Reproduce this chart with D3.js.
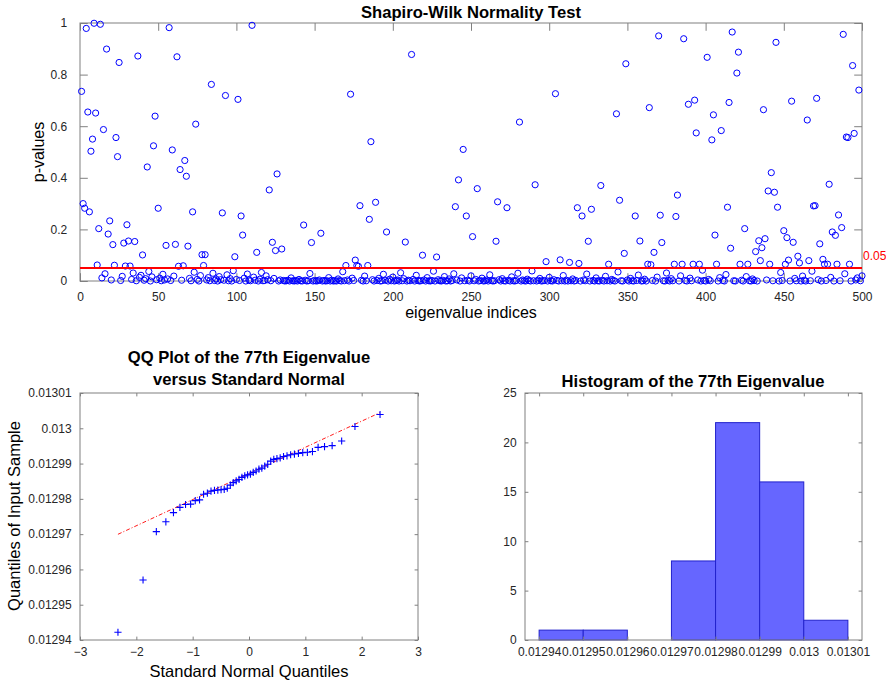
<!DOCTYPE html>
<html>
<head>
<meta charset="utf-8">
<script src="https://cdn.jsdelivr.net/npm/d3@7"></script>
<style>
  html, body { margin: 0; padding: 0; background: #fff; }
  svg { display: block; font-family: "Liberation Sans", Arial, Helvetica, sans-serif; }
</style>
</head>
<body>
<svg id="fig" width="886" height="688"></svg>
<script>
// Shapiro-Wilk p-values for eigenvalues 1..500
const pValues = [
  0.735, 0.300, 0.282, 0.979, 0.655, 0.268, 0.503, 0.550, 0.999, 0.651,
  0.062, 0.203, 0.995, 0.012, 0.587, 0.028, 0.899, 0.182, 0.233, 0.004,
  0.141, 0.061, 0.556, 0.482, 0.847, 0.002, 0.018, 0.147, 0.058, 0.218,
  0.155, 0.058, 0.006, 0.031, 0.153, 0.001, 0.872, 0.014, 0.022, 0.101,
  0.003, 0.009, 0.442, 0.037, 0.000, 0.016, 0.524, 0.639, 0.005, 0.282,
  0.011, 0.001, 0.026, 0.004, 0.138, 0.008, 0.982, 0.002, 0.508, 0.019,
  0.142, 0.869, 0.057, 0.432, 0.003, 0.059, 0.467, 0.406, 0.135, 0.010,
  0.001, 0.268, 0.034, 0.608, 0.006, 0.000, 0.021, 0.102, 0.060, 0.102,
  0.004, 0.013, 0.001, 0.762, 0.030, 0.002, 0.008, 0.000, 0.017, 0.005,
  0.264, 0.003, 0.719, 0.024, 0.001, 0.009, 0.000, 0.040, 0.094, 0.006,
  0.704, 0.002, 0.252, 0.178, 0.011, 0.000, 0.027, 0.004, 0.001, 0.991,
  0.015, 0.003, 0.111, 0.000, 0.007, 0.033, 0.001, 0.002, 0.020, 0.005,
  0.353, 0.001, 0.150, 0.010, 0.118, 0.415, 0.000, 0.004, 0.124, 0.002,
  0.000, 0.001, 0.003, 0.000, 0.012, 0.001, 0.000, 0.002, 0.000, 0.006,
  0.001, 0.000, 0.217, 0.003, 0.000, 0.001, 0.029, 0.149, 0.000, 0.002,
  0.000, 0.001, 0.004, 0.185, 0.000, 0.002, 0.000, 0.001, 0.013, 0.000,
  0.003, 0.000, 0.001, 0.000, 0.008, 0.002, 0.000, 0.036, 0.001, 0.060,
  0.004, 0.000, 0.724, 0.011, 0.002, 0.081, 0.060, 0.057, 0.292, 0.003,
  0.000, 0.019, 0.001, 0.060, 0.239, 0.540, 0.005, 0.000, 0.305, 0.002,
  0.010, 0.000, 0.001, 0.026, 0.003, 0.190, 0.000, 0.007, 0.001, 0.015,
  0.000, 0.002, 0.004, 0.000, 0.032, 0.001, 0.009, 0.151, 0.000, 0.003,
  0.001, 0.878, 0.006, 0.000, 0.022, 0.002, 0.000, 0.001, 0.100, 0.004,
  0.000, 0.013, 0.001, 0.000, 0.002, 0.038, 0.000, 0.093, 0.005, 0.001,
  0.000, 0.003, 0.017, 0.000, 0.001, 0.008, 0.000, 0.002, 0.028, 0.288,
  0.004, 0.392, 0.000, 0.012, 0.510, 0.001, 0.252, 0.003, 0.000, 0.020,
  0.172, 0.001, 0.006, 0.358, 0.000, 0.002, 0.011, 0.000, 0.001, 0.004,
  0.000, 0.024, 0.002, 0.000, 0.001, 0.154, 0.307, 0.005, 0.000, 0.009,
  0.001, 0.000, 0.284, 0.003, 0.000, 0.016, 0.001, 0.000, 0.002, 0.030,
  0.616, 0.000, 0.004, 0.001, 0.000, 0.007, 0.002, 0.000, 0.039, 0.001,
  0.373, 0.000, 0.003, 0.010, 0.000, 0.001, 0.002, 0.075, 0.000, 0.014,
  0.001, 0.000, 0.005, 0.726, 0.002, 0.000, 0.082, 0.001, 0.021, 0.000,
  0.003, 0.000, 0.072, 0.001, 0.008, 0.000, 0.002, 0.284, 0.068, 0.000,
  0.252, 0.004, 0.001, 0.027, 0.154, 0.000, 0.278, 0.002, 0.000, 0.012,
  0.001, 0.000, 0.370, 0.003, 0.000, 0.018, 0.001, 0.065, 0.000, 0.006,
  0.002, 0.000, 0.648, 0.035, 0.313, 0.001, 0.000, 0.107, 0.842, 0.004,
  0.000, 0.010, 0.001, 0.000, 0.252, 0.002, 0.023, 0.155, 0.000, 0.001,
  0.007, 0.000, 0.065, 0.672, 0.063, 0.002, 0.111, 0.000, 0.015, 0.950,
  0.255, 0.149, 0.001, 0.000, 0.031, 0.003, 0.000, 0.009, 0.001, 0.065,
  0.250, 0.333, 0.000, 0.020, 0.065, 0.939, 0.002, 0.000, 0.685, 0.011,
  0.001, 0.065, 0.701, 0.574, 0.004, 0.065, 0.000, 0.042, 0.002, 0.000,
  0.867, 0.006, 0.001, 0.547, 0.644, 0.178, 0.065, 0.000, 0.013, 0.583,
  0.002, 0.000, 0.025, 0.286, 0.692, 0.127, 0.965, 0.001, 0.000, 0.806,
  0.887, 0.065, 0.003, 0.000, 0.203, 0.017, 0.065, 0.001, 0.000, 0.008,
  0.002, 0.114, 0.000, 0.156, 0.079, 0.129, 0.664, 0.164, 0.004, 0.349,
  0.065, 0.420, 0.001, 0.344, 0.925, 0.286, 0.000, 0.033, 0.002, 0.195,
  0.065, 0.168, 0.081, 0.000, 0.697, 0.150, 0.010, 0.001, 0.096, 0.070,
  0.000, 0.019, 0.003, 0.000, 0.624, 0.079, 0.001, 0.038, 0.291, 0.292,
  0.708, 0.005, 0.144, 0.000, 0.084, 0.065, 0.002, 0.065, 0.375, 0.014,
  0.190, 0.000, 0.177, 0.065, 0.256, 0.001, 0.207, 0.956, 0.028, 0.558,
  0.556, 0.065, 0.000, 0.835, 0.572, 0.004, 0.012, 0.740, 0.001, 0.020
];
const alphaLevel = 0.05;
const topXTicks = [0, 50, 100, 150, 200, 250, 300, 350, 400, 450, 500];
const topYTicks = [0, 0.2, 0.4, 0.6, 0.8, 1];

// Sorted samples of the 77th eigenvalue (50 draws)
const eig77Sorted = [
  0.0129422, 0.0129570, 0.0129707, 0.0129735, 0.0129761, 0.0129776, 0.0129784, 0.0129785, 0.0129795, 0.0129797,
  0.0129813, 0.0129816, 0.0129822, 0.0129824, 0.0129825, 0.0129826, 0.0129827, 0.0129830, 0.0129839, 0.0129846,
  0.0129851, 0.0129855, 0.0129861, 0.0129865, 0.0129868, 0.0129870, 0.0129875, 0.0129879, 0.0129884, 0.0129887,
  0.0129893, 0.0129898, 0.0129907, 0.0129912, 0.0129914, 0.0129916, 0.0129920, 0.0129922, 0.0129925, 0.0129927,
  0.0129929, 0.0129931, 0.0129932, 0.0129934, 0.0129946, 0.0129948, 0.0129951, 0.0129964, 0.0130005, 0.0130039
];
// Standard normal quantiles at plotting positions (i - 0.5) / 50
const normalQuantiles = [
  -2.3263, -1.8808, -1.6449, -1.4758, -1.3408, -1.2265, -1.1264, -1.0364, -0.9542, -0.8779,
  -0.8064, -0.7388, -0.6745, -0.6128, -0.5534, -0.4959, -0.4399, -0.3853, -0.3319, -0.2793,
  -0.2275, -0.1764, -0.1257, -0.0753, -0.0251, 0.0251, 0.0753, 0.1257, 0.1764, 0.2275,
  0.2793, 0.3319, 0.3853, 0.4399, 0.4959, 0.5534, 0.6128, 0.6745, 0.7388, 0.8064,
  0.8779, 0.9542, 1.0364, 1.1264, 1.2265, 1.3408, 1.4758, 1.6449, 1.8808, 2.3263
];
const qqXTicks = [-3, -2, -1, 0, 1, 2, 3];
const qqYTicks = [0.01294, 0.01295, 0.01296, 0.01297, 0.01298, 0.01299, 0.013, 0.01301];
const binEdges = [0.01294, 0.01295, 0.01296, 0.01297, 0.01298, 0.01299, 0.013, 0.01301];
const histYTicks = [0, 5, 10, 15, 20, 25];

const svg = d3.select("#fig");
const AXIS_COLOR = "#808080";
const TITLE_SIZE = 16.6;
const fmt = v => String(+v.toFixed(6));

// MATLAB-style boxed axes: inward ticks on all four sides, labels on left/bottom
function boxedAxes(g, x, y, xt, yt, tickLen, xf, yf) {
  const [x0, x1] = x.range(), [y0, y1] = y.range();
  const gx = g.append("g").attr("transform", `translate(0,${y0})`)
    .call(d3.axisBottom(x).tickValues(xt).tickSize(-tickLen).tickPadding(tickLen + 4).tickFormat(xf));
  const gxt = g.append("g").attr("transform", `translate(0,${y1})`)
    .call(d3.axisTop(x).tickValues(xt).tickSize(-tickLen).tickFormat(""));
  const gy = g.append("g").attr("transform", `translate(${x0},0)`)
    .call(d3.axisLeft(y).tickValues(yt).tickSize(-tickLen).tickPadding(tickLen + 5).tickFormat(yf));
  const gyr = g.append("g").attr("transform", `translate(${x1},0)`)
    .call(d3.axisRight(y).tickValues(yt).tickSize(-tickLen).tickFormat(""));
  [gx, gxt, gy, gyr].forEach(a => {
    a.select(".domain").remove();
    a.selectAll(".tick line").attr("stroke", AXIS_COLOR).attr("stroke-width", 1);
    a.selectAll(".tick text").attr("font-size", 12).attr("fill", "#262626")
      .attr("font-family", "Liberation Sans, Arial, sans-serif");
  });
  g.append("rect").attr("x", x0).attr("y", y1).attr("width", x1 - x0).attr("height", y0 - y1)
    .attr("fill", "none").attr("stroke", AXIS_COLOR).attr("stroke-width", 1);
}

function text(g, s, x, y, opts = {}) {
  const t = g.append("text").attr("x", x).attr("y", y).text(s)
    .attr("text-anchor", opts.anchor || "middle")
    .attr("font-size", opts.size || 16)
    .attr("font-weight", opts.bold ? "bold" : "normal")
    .attr("fill", opts.fill || "#000");
  if (opts.rotate) t.attr("transform", `rotate(-90,${x},${y})`);
  return t;
}

/* ---------- Top panel: p-values of the normality test ---------- */
{
  const g = svg.append("g");
  const x = d3.scaleLinear().domain([0, 500]).range([80, 862]);
  const y = d3.scaleLinear().domain([0, 1]).range([281, 23]);
  boxedAxes(g, x, y, topXTicks, topYTicks, 7.8, d3.format("d"), fmt);

  g.append("g").selectAll("circle").data(pValues).join("circle")
    .attr("cx", (d, i) => x(i + 1)).attr("cy", d => y(d)).attr("r", 3.1)
    .attr("fill", "none").attr("stroke", "#0000ff").attr("stroke-width", 1);

  g.append("line").attr("x1", x(0)).attr("x2", x(500))
    .attr("y1", y(alphaLevel)).attr("y2", y(alphaLevel))
    .attr("stroke", "#ff0000").attr("stroke-width", 2);
  text(g, String(alphaLevel), x(500) + 1, y(alphaLevel) - 8, { anchor: "start", size: 12, fill: "#ff0000" });

  text(g, "Shapiro-Wilk Normality Test", 471, 18, { bold: true, size: TITLE_SIZE });
  text(g, "eigenvalue indices", 471, 318, { size: 16 });
  text(g, "p-values", 44, 152, { size: 16, rotate: true });
}

/* ---------- Bottom left: QQ plot ---------- */
{
  const g = svg.append("g");
  const x = d3.scaleLinear().domain([-3, 3]).range([80, 418]);
  const y = d3.scaleLinear().domain([0.01294, 0.01301]).range([640, 393]);
  boxedAxes(g, x, y, qqXTicks, qqYTicks, 3.4, d3.format("d"), fmt);

  // reference line through the first and third quartiles
  const q1 = eig77Sorted[12], q3 = eig77Sorted[37];
  const z1 = normalQuantiles[12], z3 = normalQuantiles[37];
  const slope = (q3 - q1) / (z3 - z1);
  const xa = normalQuantiles[0], xb = normalQuantiles[normalQuantiles.length - 1];
  const line = d3.line().x(d => x(d[0])).y(d => y(d[1]));
  g.append("path")
    .attr("d", line([[xa, q1 + slope * (xa - z1)], [xb, q1 + slope * (xb - z1)]]))
    .attr("stroke", "#ff0000").attr("stroke-width", 0.9).attr("fill", "none")
    .attr("stroke-dasharray", "4,2,1,2");

  const pts = eig77Sorted.map((v, i) => [normalQuantiles[i], v]);
  g.append("g").selectAll("path").data(pts).join("path")
    .attr("d", d => {
      const cx = x(d[0]), cy = y(d[1]), s = 3.6;
      return `M${cx - s},${cy}H${cx + s}M${cx},${cy - s}V${cy + s}`;
    })
    .attr("stroke", "#0000ff").attr("stroke-width", 1.1).attr("fill", "none");

  text(g, "QQ Plot of the 77th Eigenvalue", 249, 363, { bold: true, size: TITLE_SIZE });
  text(g, "versus Standard Normal", 249, 385, { bold: true, size: TITLE_SIZE });
  text(g, "Standard Normal Quantiles", 249, 677, { size: 16.5 });
  text(g, "Quantiles of Input Sample", 20, 516, { size: 16.5, rotate: true });
}

/* ---------- Bottom right: histogram ---------- */
{
  const g = svg.append("g");
  const x = d3.scaleLinear().domain([0.0129368, 0.0130132]).range([525, 862]);
  const y = d3.scaleLinear().domain([0, 25]).range([640, 393]);
  const bins = d3.bin().domain([binEdges[0], binEdges[binEdges.length - 1]])
    .thresholds(binEdges.slice(1, -1))(eig77Sorted);

  g.append("g").selectAll("rect").data(bins.filter(b => b.length > 0)).join("rect")
    .attr("x", b => x(b.x0)).attr("width", b => x(b.x1) - x(b.x0))
    .attr("y", b => y(b.length)).attr("height", b => y(0) - y(b.length))
    .attr("fill", "#6666ff").attr("stroke", "#2222cc").attr("stroke-width", 1);

  boxedAxes(g, x, y, binEdges, histYTicks, 3.4, fmt, d3.format("d"));
  text(g, "Histogram of the 77th Eigenvalue", 693, 387, { bold: true, size: TITLE_SIZE });
}
</script>
</body>
</html>
